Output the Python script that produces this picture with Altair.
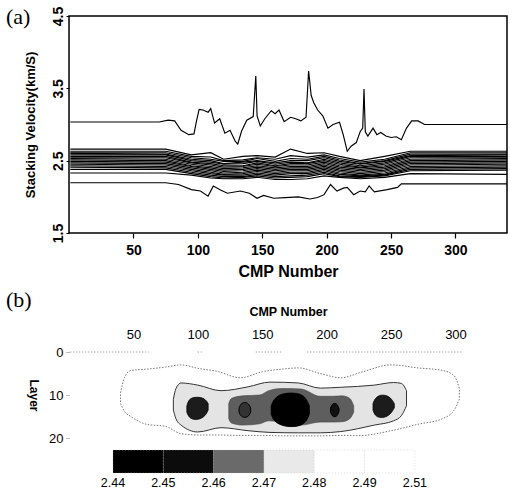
import altair as alt
import pandas as pd

# ---------------- Panel (a): stacking velocity lines ----------------
band_cmp = [1, 75, 95, 110, 120, 135, 146, 160, 172, 185, 198, 210, 226, 245, 265, 340]
band_vel = [
    [2.66, 2.66, 2.58, 2.61, 2.52, 2.56, 2.57, 2.55, 2.66, 2.60, 2.61, 2.56, 2.50, 2.56, 2.63, 2.63],
    [2.63, 2.63, 2.56, 2.55, 2.50, 2.51, 2.54, 2.52, 2.57, 2.55, 2.58, 2.53, 2.48, 2.52, 2.61, 2.61],
    [2.61, 2.61, 2.54, 2.52, 2.49, 2.49, 2.53, 2.49, 2.53, 2.52, 2.56, 2.51, 2.46, 2.50, 2.59, 2.59],
    [2.60, 2.59, 2.52, 2.50, 2.46, 2.48, 2.50, 2.47, 2.50, 2.50, 2.54, 2.49, 2.45, 2.49, 2.57, 2.58],
    [2.58, 2.58, 2.50, 2.48, 2.45, 2.46, 2.49, 2.45, 2.48, 2.47, 2.52, 2.47, 2.43, 2.47, 2.56, 2.56],
    [2.56, 2.56, 2.48, 2.46, 2.43, 2.43, 2.47, 2.43, 2.46, 2.46, 2.50, 2.45, 2.41, 2.45, 2.54, 2.54],
    [2.54, 2.54, 2.47, 2.44, 2.41, 2.42, 2.45, 2.42, 2.44, 2.44, 2.48, 2.43, 2.40, 2.43, 2.52, 2.53],
    [2.53, 2.52, 2.45, 2.42, 2.39, 2.40, 2.43, 2.40, 2.42, 2.42, 2.46, 2.41, 2.38, 2.41, 2.50, 2.51],
    [2.51, 2.50, 2.43, 2.40, 2.37, 2.38, 2.41, 2.38, 2.40, 2.40, 2.44, 2.39, 2.36, 2.39, 2.48, 2.49],
    [2.49, 2.48, 2.42, 2.38, 2.35, 2.36, 2.39, 2.36, 2.38, 2.38, 2.42, 2.37, 2.34, 2.37, 2.46, 2.47],
    [2.47, 2.46, 2.40, 2.36, 2.33, 2.34, 2.37, 2.34, 2.36, 2.36, 2.40, 2.35, 2.32, 2.35, 2.44, 2.45],
    [2.45, 2.44, 2.38, 2.34, 2.31, 2.32, 2.35, 2.32, 2.34, 2.34, 2.38, 2.33, 2.30, 2.33, 2.42, 2.43],
    [2.43, 2.42, 2.36, 2.32, 2.30, 2.30, 2.33, 2.30, 2.32, 2.32, 2.36, 2.31, 2.29, 2.31, 2.40, 2.41],
    [2.41, 2.40, 2.34, 2.30, 2.28, 2.28, 2.31, 2.28, 2.29, 2.30, 2.34, 2.29, 2.28, 2.30, 2.38, 2.39],
    [2.38, 2.38, 2.32, 2.28, 2.26, 2.27, 2.29, 2.26, 2.27, 2.28, 2.32, 2.28, 2.27, 2.29, 2.36, 2.37],
    [2.33, 2.33, 2.30, 2.26, 2.25, 2.25, 2.27, 2.24, 2.24, 2.25, 2.29, 2.27, 2.25, 2.27, 2.32, 2.31],
]

upper_cmp = [1, 70, 77, 82, 87, 93, 97, 99, 101, 104, 108, 110, 113, 117, 121, 125, 129, 131,
             134, 138, 143, 145, 146, 148.5, 152, 157, 160, 163, 167, 172, 176, 180, 184, 186,
             188, 190, 193, 197, 201, 205, 210, 213, 216, 219, 223, 226, 228, 229, 230, 232,
             236, 239, 242, 246, 250, 254, 258, 262, 266, 271, 276, 340]
upper_vel = [3.035, 3.035, 3.06, 3.05, 2.92, 2.86, 2.87, 3.05, 3.21, 3.20, 3.17, 3.22, 3.02, 3.08,
             2.88, 2.92, 2.77, 2.73, 2.91, 3.06, 3.11, 3.67, 3.12, 2.98, 3.08, 3.19, 3.15, 3.20,
             3.04, 3.10, 3.08, 3.05, 3.10, 3.74, 3.40, 3.30, 3.20, 3.12, 2.95, 3.00, 3.03, 2.85,
             2.63, 2.70, 2.75, 2.90, 2.95, 3.49, 2.90, 2.84, 2.95, 2.86, 2.89, 2.84, 2.82, 2.83,
             2.79, 2.95, 3.05, 3.05, 3.00, 3.00]

lower_cmp = [1, 75, 85, 95, 102, 108, 112, 118, 123, 133, 140, 146, 151, 159, 168, 178, 187,
             193, 198, 203, 208, 213, 216, 221, 226, 230, 233, 237, 247, 255, 258, 265, 340]
lower_vel = [2.195, 2.195, 2.17, 2.10, 2.08, 2.01, 2.15, 2.09, 2.05, 2.08, 2.05, 1.98, 2.02,
             1.98, 1.99, 2.00, 1.97, 1.99, 2.03, 2.17, 2.08, 2.12, 2.13, 2.03, 2.08, 2.07, 2.15,
             2.07, 2.10, 2.13, 2.18, 2.18, 2.18]

x_ticks = [50, 100, 150, 200, 250, 300]
y_ticks = [1.5, 2.5, 3.5, 4.5]

# ---------------- Panel (b): contour regions (CMP, top layer, bottom layer) ----------------
outer_cmp = [40, 43, 48, 60, 75, 87, 100, 115, 133, 150, 165, 178, 195, 211, 227, 250, 271, 290, 299, 303]
outer_top = [9.5, 6.0, 4.3, 4.0, 3.5, 3.0, 3.8, 4.5, 6.0, 4.6, 4.0, 3.7, 5.0, 6.0, 4.7, 3.0, 3.7, 4.3, 5.5, 8.5]
outer_bot = [12.0, 13.8, 15.0, 16.8, 17.3, 19.0, 19.3, 19.3, 19.4, 19.4, 19.5, 19.5, 19.5, 19.4, 19.4, 18.3, 16.8, 15.5, 13.5, 11.0]

second_cmp = [81, 83, 87, 100, 118, 139, 156, 178, 195, 211, 237, 252, 258, 262]
second_top = [11.0, 8.5, 7.2, 7.7, 9.0, 8.1, 7.0, 7.2, 8.4, 8.2, 7.7, 7.1, 7.3, 9.0]
second_bot = [13.5, 15.5, 17.0, 18.6, 17.6, 18.3, 18.7, 18.8, 18.8, 18.5, 17.0, 16.0, 14.8, 12.5]

dgray_cmp = [124, 126, 135, 148, 155, 165, 180, 195, 205, 212, 218, 221]
dgray_top = [12.0, 10.8, 10.2, 10.0, 9.0, 8.5, 8.6, 10.3, 10.3, 10.2, 10.8, 12.5]
dgray_bot = [15.5, 16.5, 17.0, 16.7, 16.0, 16.3, 17.0, 16.3, 16.3, 16.2, 15.5, 14.0]

center_cmp = [157, 159, 163, 168, 174, 180, 184, 186.5]
center_top = [12.5, 11.0, 10.0, 9.6, 9.5, 9.8, 10.7, 12.5]
center_bot = [14.5, 16.0, 16.8, 17.3, 17.4, 17.1, 16.3, 14.5]

lblob_cmp = [91.5, 93, 97, 102, 106, 108]
lblob_top = [12.5, 11.0, 10.5, 10.5, 11.0, 12.0]
lblob_bot = [14.0, 15.2, 15.8, 15.6, 14.8, 13.5]

rblob_cmp = [236, 237.5, 241, 246, 250, 252.5]
rblob_top = [12.0, 10.8, 10.0, 10.0, 10.7, 12.0]
rblob_bot = [13.5, 14.8, 15.3, 15.2, 14.3, 13.0]

ilblob_cmp = [132, 133.5, 136.5, 139.5, 141]
ilblob_top = [13.0, 12.0, 11.6, 12.0, 13.0]
ilblob_bot = [14.0, 15.0, 15.3, 15.0, 14.0]

irblob_cmp = [203, 204.5, 206.5, 208.5, 209.6]
irblob_top = [13.0, 12.0, 11.9, 12.2, 13.2]
irblob_bot = [14.0, 15.0, 15.1, 14.8, 13.8]

zero_seg_start = [1, 100, 145, 185]
zero_seg_end = [62, 103, 165, 305]

cbar_labels = ["2.44", "2.45", "2.46", "2.47", "2.48", "2.49", "2.51"]
cbar_colors = ["#000000", "#0c0c0c", "#6a6a6a", "#e9e9e9", "#ffffff", "#ffffff"]
b_x_ticks = [50, 100, 150, 200, 250, 300]
b_y_ticks = [0, 10, 20]

SANS = "Liberation Sans"
SERIF = "Liberation Serif"

# ---------------- build panel (a) ----------------
rows = []
for k, vals in enumerate(band_vel):
    for c, v in zip(band_cmp, vals):
        rows.append({"line": f"b{k}", "cmp": c, "v": v})
for c, v in zip(upper_cmp, upper_vel):
    rows.append({"line": "upper", "cmp": c, "v": v})
for c, v in zip(lower_cmp, lower_vel):
    rows.append({"line": "lower", "cmp": c, "v": v})
df_a = pd.DataFrame(rows)

xa = alt.X("cmp:Q", scale=alt.Scale(domain=[0, 340], nice=False, zero=False),
           axis=alt.Axis(values=x_ticks, title="CMP Number", grid=False, domain=False,
                         labelFont=SANS, labelFontSize=14, labelFontWeight="bold", labelColor="black",
                         titleFont=SANS, titleFontSize=16, titleFontWeight="bold", titleColor="black",
                         tickSize=5, tickColor="black", tickWidth=1.2, labelPadding=5, titlePadding=6,
                         labelFlush=False))
ya = alt.Y("v:Q", scale=alt.Scale(domain=[1.5, 4.5], nice=False, zero=False),
           axis=alt.Axis(values=y_ticks, format=".1f", title="Stacking Velocity(km/S)", grid=False,
                         domain=False, labelAngle=270, labelFont=SANS, labelFontSize=14,
                         labelFontWeight="bold", labelColor="black", titleFont=SANS, titleFontSize=13,
                         titleFontWeight="bold", titleColor="black", tickSize=3, tickColor="black",
                         labelPadding=1, titlePadding=14, labelFlush=False))

lines_a = alt.Chart(df_a).mark_line(color="black", strokeWidth=1.15, clip=True).encode(
    x=xa, y=ya, detail="line:N")

lab_a = alt.Chart(pd.DataFrame({"t": ["(a)"]})).mark_text(
    font=SERIF, fontSize=22, align="left", baseline="middle", color="black").encode(
    text="t:N", x=alt.value(-63), y=alt.value(1))

panel_a = alt.layer(lines_a, lab_a).properties(
    width=438, height=217, view=alt.ViewBackground(stroke="black", strokeWidth=1.5))

# ---------------- build panel (b) ----------------
xb_scale = alt.Scale(domain=[0, 340], nice=False, zero=False)
yb_scale = alt.Scale(domain=[0, 20], nice=False, zero=False, reverse=True)
xb_axis = alt.Axis(orient="top", values=b_x_ticks, title="CMP Number", grid=False,
                   domain=False, ticks=False, labelFont=SANS, labelFontSize=13,
                   labelColor="black", titleFont=SANS, titleFontSize=12.5,
                   titleFontWeight="bold", titleColor="black", labelPadding=11,
                   titlePadding=10)
yb_axis = alt.Axis(values=b_y_ticks, title="Layer", grid=False, domain=False,
                   labelFont=SANS, labelFontSize=13, labelColor="black",
                   titleFont=SANS, titleFontSize=12, titleFontWeight="bold",
                   titleColor="black", titleAngle=90, tickSize=4, tickColor="#777",
                   tickDash=[1, 1], labelPadding=2, titlePadding=22)


def region(xs, tops, bots, fill, stroke, dash, sw, interp):
    d = pd.DataFrame({"cmp": xs, "top": tops, "bot": bots})
    mk = dict(fill=fill, stroke=stroke, strokeWidth=sw, interpolate=interp, fillOpacity=1)
    if dash:
        mk["strokeDash"] = dash
    return alt.Chart(d).mark_area(**mk).encode(
        x=alt.X("cmp:Q", scale=xb_scale, axis=xb_axis, title="CMP Number"),
        y=alt.Y("top:Q", scale=yb_scale, axis=yb_axis, title="Layer"),
        y2="bot:Q")

outer = region(outer_cmp, outer_top, outer_bot, "#ffffff", "#777777", [1.5, 1.5], 1, "monotone")
second = region(second_cmp, second_top, second_bot, "#e4e4e4", "#333333", [], 1, "monotone")
dgray = region(dgray_cmp, dgray_top, dgray_bot, "#5e5e5e", "#444444", [], 0.6, "monotone")
lblob = region(lblob_cmp, lblob_top, lblob_bot, "#1c1c1c", "#000000", [], 0.8, "basis")
rblob = region(rblob_cmp, rblob_top, rblob_bot, "#1c1c1c", "#000000", [], 0.8, "basis")
ilblob = region(ilblob_cmp, ilblob_top, ilblob_bot, "#333333", "#000000", [], 1, "basis")
irblob = region(irblob_cmp, irblob_top, irblob_bot, "#111111", "#000000", [], 1, "basis")
center = region(center_cmp, center_top, center_bot, "#000000", "#000000", [], 1, "basis")

zero_df = pd.DataFrame({"cmp": zero_seg_start, "cmp2": zero_seg_end, "top": [0] * len(zero_seg_start)})
zero_line = alt.Chart(zero_df).mark_rule(color="#888888", strokeDash=[1, 2], strokeWidth=1).encode(
    x=alt.X("cmp:Q", scale=xb_scale, axis=xb_axis, title="CMP Number"),
    x2="cmp2:Q",
    y=alt.Y("top:Q", scale=yb_scale, axis=yb_axis, title="Layer"))

lab_b = alt.Chart(pd.DataFrame({"t": ["(b)"]})).mark_text(
    font=SERIF, fontSize=22, align="left", baseline="middle", color="black").encode(
    text="t:N", x=alt.value(-63), y=alt.value(-52))

contours = alt.layer(outer, second, dgray, lblob, rblob, ilblob, irblob, center, zero_line, lab_b)

cb_df = pd.DataFrame({"i0": list(range(6)), "i1": list(range(1, 7)), "c": cbar_colors})
cb_scale = alt.Scale(domain=[-0.874, 7.83], nice=False, zero=False)
cbar = alt.Chart(cb_df).mark_rect(stroke="#bbbbbb", strokeWidth=0.5, strokeDash=[1, 2]).encode(
    x=alt.X("i0:Q", scale=cb_scale, axis=None), x2="i1:Q",
    y=alt.value(98), y2=alt.value(121),
    fill=alt.Fill("c:N", scale=None))
cb_lab_df = pd.DataFrame({"i0": list(range(7)), "t": cbar_labels})
cbar_text = alt.Chart(cb_lab_df).mark_text(font=SANS, fontSize=12.5, color="black", baseline="middle").encode(
    x=alt.X("i0:Q", scale=cb_scale, axis=None), y=alt.value(131), text="t:N")
cbar_layer = alt.layer(cbar, cbar_text)

panel_b = alt.layer(contours, cbar_layer).resolve_scale(x="independent").properties(
    width=438, height=86, view=alt.ViewBackground(strokeWidth=0))

chart = alt.vconcat(panel_a, panel_b, spacing=9).properties(
    padding={"left": 5, "top": 5, "right": 0, "bottom": 0},
    background="white")
chart = chart.configure_view(strokeWidth=0)

chart.save("out.html", embed_options={"renderer": "svg", "actions": False})
